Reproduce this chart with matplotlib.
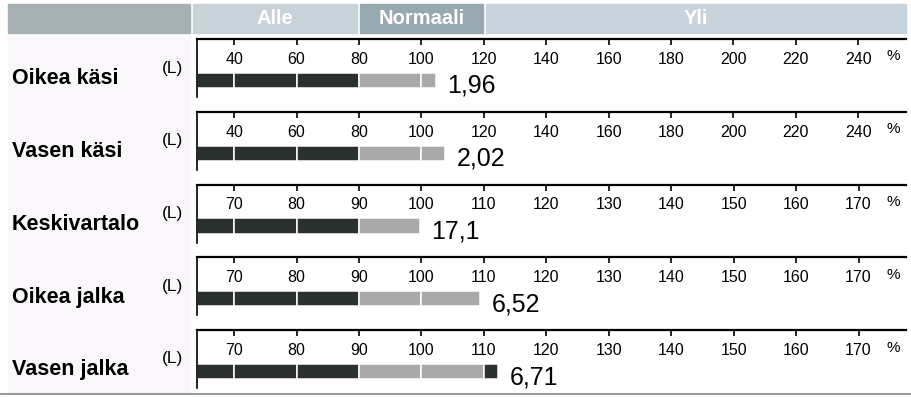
import matplotlib
matplotlib.use("Agg")
import matplotlib.pyplot as plt
from matplotlib.patches import Rectangle

plt.rcParams['font.family'] = ['Liberation Sans', 'DejaVu Sans']

# Segmental lean analysis
segments = ['Oikea käsi', 'Vasen käsi', 'Keskivartalo', 'Oikea jalka', 'Vasen jalka']
litres = ['1,96', '2,02', '17,1', '6,52', '6,71']
percent = [104.8, 107.7, 99.7, 109.4, 112.3]
unit = '(L)'

arm_ticks = [40, 60, 80, 100, 120, 140, 160, 180, 200, 220, 240]
body_ticks = [70, 80, 90, 100, 110, 120, 130, 140, 150, 160, 170]
arm_normal = (80, 120)
body_normal = (90, 110)
arm_xlim = (28.1, 255.3)
body_xlim = (64.05, 177.6)

header_labels = ['Alle', 'Normaali', 'Yli']

W, H = 912, 397
DARK = '#2a302e'
GREY = '#a9a9a9'


def fx(px):
    return px / W


def fy(py):
    return 1 - py / H


fig = plt.figure(figsize=(W / 100, H / 100), dpi=100)

# header band
hdr = [(8, 190, '#a6afb1', ''), (193, 357, '#c8d2d9', header_labels[0]),
       (360, 483, '#98a8b1', header_labels[1]), (486, 906, '#c7d4dd', header_labels[2])]
for x0, x1, col, txt in hdr:
    fig.patches.append(Rectangle((fx(x0), fy(33)), fx(x1 - x0), 29 / H,
                                 transform=fig.transFigure, color=col, zorder=0))
    if txt:
        fig.text(fx((x0 + x1) / 2), fy(18.5), txt, color='white', fontsize=14.5,
                 fontweight='bold', ha='center', va='center')

# faint tint behind the row labels (scan look)
fig.patches.append(Rectangle((fx(8), fy(392)), fx(182), 355 / H,
                             transform=fig.transFigure, color='#faf7fa', zorder=0))

top0, step = 39, 72.75
for i, name in enumerate(segments):
    top = top0 + i * step
    if i < 2:
        ticks, normal, xlim = arm_ticks, arm_normal, arm_xlim
    else:
        ticks, normal, xlim = body_ticks, body_normal, body_xlim

    ax = fig.add_axes([fx(197), fy(top + 58), fx(906 - 197), 58 / H])
    ax.set_xlim(xlim)
    ax.set_ylim(0, 1)
    for s in ['right', 'bottom']:
        ax.spines[s].set_visible(False)
    ax.spines['top'].set_linewidth(1.6)
    ax.spines['left'].set_linewidth(1.2)
    ax.xaxis.tick_top()
    ax.set_xticks(ticks)
    ax.tick_params(axis='x', direction='in', length=4, width=1.2, pad=-20,
                   labelsize=11.5)
    ax.set_yticks([])
    ax.patch.set_alpha(0)

    # bar split into segments at the tick marks
    edges = [xlim[0]] + ticks
    val = percent[i]
    for lo, hi in zip(edges[:-1], edges[1:]):
        if lo >= val:
            break
        hi = min(hi, val)
        col = DARK if (hi <= normal[0] or lo >= normal[1]) else GREY
        ax.barh(0.285, hi - lo, left=lo, height=0.26, color=col,
                edgecolor='white', linewidth=1.1)

    ax.annotate(litres[i], xy=(val, 1 - 54 / 58), xytext=(8, 0),
                textcoords='offset points', va='baseline', ha='left', fontsize=18)
    ax.text(0.982, 1 - 21.5 / 58, '%', transform=ax.transAxes, ha='center',
            va='baseline', fontsize=11)

    fig.text(fx(12), fy(top + 45.5), name, fontsize=15.5, fontweight='bold',
             ha='left', va='baseline')
    fig.text(fx(173), fy(top + 33.5), unit, fontsize=12.5, ha='center', va='baseline')

# bottom rule
fig.add_artist(plt.Line2D([0, 1], [fy(394), fy(394)], transform=fig.transFigure,
                          color='#9a9a9a', linewidth=1.5))

fig.savefig('out.png', dpi=100)
